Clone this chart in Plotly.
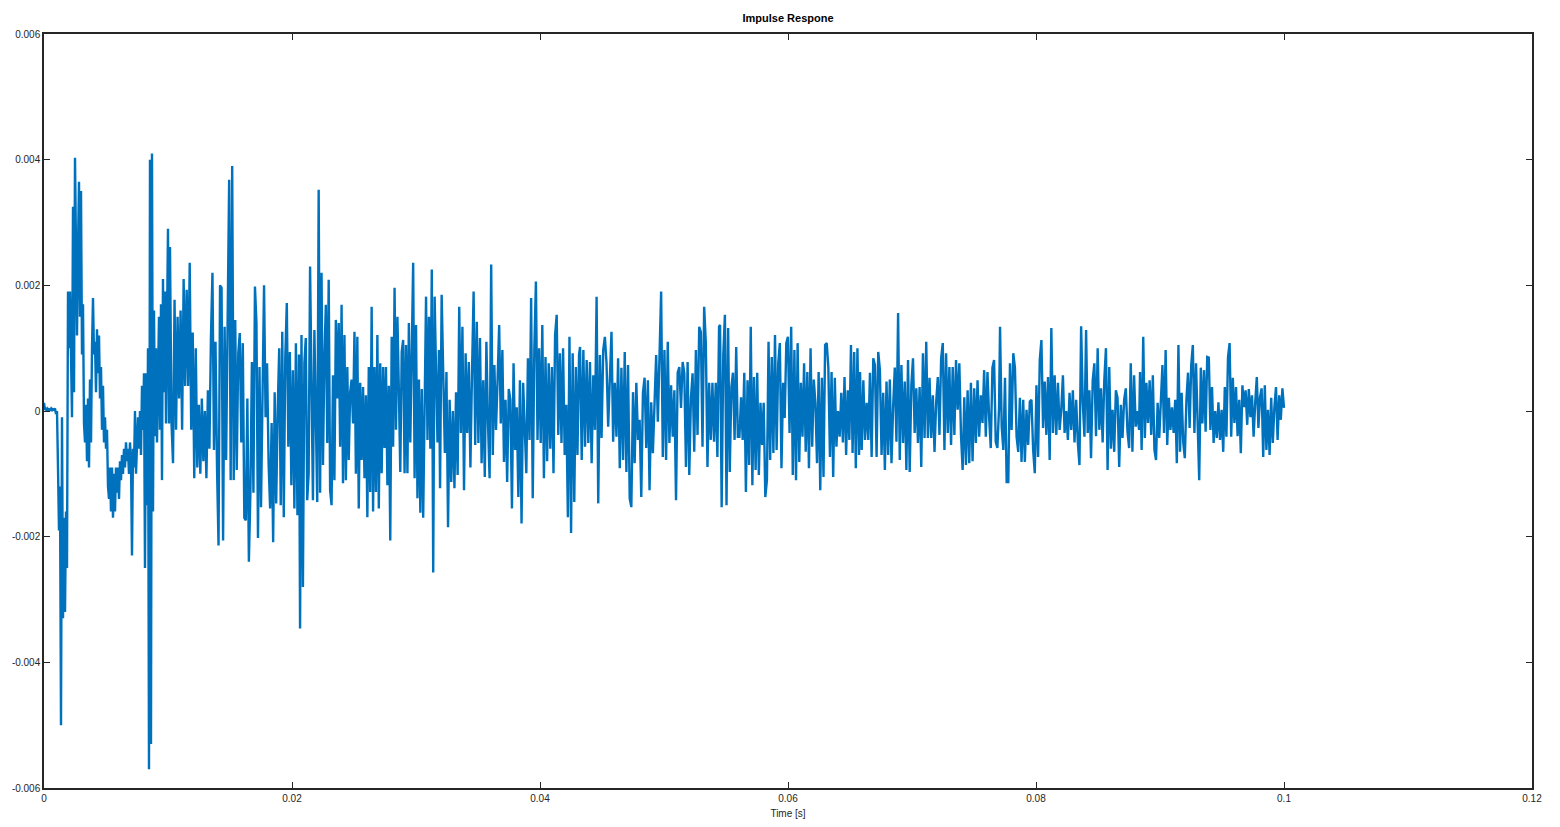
import numpy as np
import plotly.graph_objects as go

# Impulse response samples, values in units of 1e-3.
seg_start_ms = [0.0, 10.16, 20.65, 31.94, 43.23, 54.52, 65.81, 77.10, 88.39]
seg_end_ms = [10.08, 20.56, 31.85, 43.15, 54.44, 65.73, 77.02, 88.31, 100.0]

seg_a = [0.13, 0.03, 0.02, 0.04, 0.0, 0.03, 0.02, 0.04, 0.0, 0.03, 0.02, 0.04, -0.05, 0.0,
         -0.9, -1.9, -1.2, -5.0, -0.1, -3.3, -1.7, -3.2, -1.6, -2.5, 1.9, 1.0, 1.9, 0.5, -0.1,
         3.25, 0.3, 4.03, 2.6, 1.2, 2.6, 3.65, 1.5, 3.5, 0.9, 1.7, -0.2, -0.5, 0.1, -0.8, 0.2,
         -0.9, 0.5, -0.5, 1.0, 1.8, 0.9, 1.1, 0.3, 1.3, 0.6, 1.2, 0.2, 0.7, -0.3, 0.4, -0.5,
         -0.1, -0.6, -0.3, -1.2, -1.4, -0.9, -1.6, -0.9, -1.7, -1.0, -1.6, -0.9, -1.3, -0.9,
         -1.4, -0.8, -1.1, -0.7, -1.0, -0.6, -0.9, -0.5, -0.8, -0.6, -1.0, -0.5, -0.8, -2.3,
         -0.6, -0.9, 0.0, -1.0, -0.4, -0.1, -0.6, 0.0, -0.7, 0.4, -0.3, 0.6, -2.5, 0.6, -1.5,
         1.0, -5.7, 4.0, -5.3, 4.1, -1.6, 1.6, -0.4, 1.0, -0.5, 0.6, 1.5, -0.3, 1.7, -1.1, 2.1,
         0.3, 1.9, -0.2, 1.5, 2.9, -0.2]
seg_b = [2.61, -0.19, -0.83, 1.77, -0.3, 1.5, 0.2, 1.6, -0.3, 2.1, 0.4, 1.93, 0.4, 2.36, -0.3,
         1.25, -1.07, 1.0, -0.9, 0.1, -1.0, 0.2, -0.8, 0.0, -1.07, 0.33, -0.6, 1.18, 2.2, -0.62,
         1.1, -0.9, -2.14, 2.0, 1.96, -2.06, 1.34, -0.78, 1.45, 3.68, -1.1, 3.9, -1.1, 1.45,
         -0.94, 0.92, 1.24, -0.5, 1.08, -1.7, -1.74, 0.2, -2.4, -1.3, 0.78, -1.3, 1.98, 1.4,
         -2.02, 0.7, -1.53, 0.65, 2.0, -0.1, 0.76, -0.83, -1.55, -0.19, -2.09, 0.3, -1.47, 0.02,
         1.0, -1.5, 1.26, -1.69, 0.86, 1.72, -0.57, 0.94, -1.18, 0.65, -1.55, 1.08, -1.66, 0.9]
seg_c = [-3.46, 1.21, -2.8, 0.76, 1.16, -1.42, -1.0, 2.3, 0.3, -1.42, 1.29, 0.0, -1.45, 3.52,
         -1.3, 2.2, -0.86, 0.84, 1.69, -0.51, 2.09, -1.26, -1.5, 0.57, -1.1, 1.45, 0.2, 1.4,
         -0.57, 1.69, -1.15, 1.21, -1.1, 0.7, -0.78, 0.3, 0.5, -0.2, 1.26, -1.0, 1.18, -1.55,
         0.45, -0.78, 0.38, -1.07, 0.25, -1.69, 0.7, -1.29, 1.66, -1.6, 0.7, -1.29, 1.21, -1.55,
         0.76, -0.99, 0.7, -0.59, 0.7, -1.18, 0.4, -2.06, 1.18, -0.57, 1.96, -0.3, 1.5, 0.35,
         -0.97, 0.94, 1.13, -0.99, 1.05, -0.99, 1.4, -0.5, 1.42, 2.36, -1.07, 1.37, -1.39, 0.5,
         -1.62, 0.35, -1.7, 0.5, 1.82, -0.46, 1.5, -0.6, 2.25, -2.57, 1.82, 0.6, -0.5, 0.97]
seg_d = [-1.23, 1.85, 0.76, -0.67, 0.62, -1.85, 0.18, -1.13, 0.0, -1.23, 0.3, -1.02, 1.66,
         -0.35, 1.34, -1.26, 0.92, -0.35, 0.78, -0.9, 0.61, 1.9, -0.54, 1.42, -0.51, 1.16,
         -0.83, 0.49, -1.05, 1.1, -0.19, -1.07, 2.33, -0.7, 0.73, -0.3, 0.49, 1.37, -0.2, 0.97,
         -0.81, 0.18, -1.13, 0.35, 0.18, -1.55, 0.76, -0.62, 0.06, -1.37, 0.49, -1.79, 0.45,
         -0.25, -0.99, 0.84, -0.46, 1.8, -1.39, 0.97, 2.06, -0.46, 1.0, -0.51, 1.37, -1.07,
         0.86, -0.8, 0.76, -0.6, 0.7, -0.99, 1.21, 1.53, -0.38, 0.92, -0.51, 1.0, -0.7, 0.1,
         -1.69, 1.18, -1.94, 0.92, -1.45, 0.7, -0.7, 0.9]
seg_e = [1.02, -0.78, 0.97, -0.57, 0.81, -0.51, 0.78, -0.83, 0.57, -0.3, 1.82, -1.47, 0.89,
         -0.43, 0.97, 1.18, 0.76, -0.25, 0.7, 1.26, -0.49, 0.45, -0.41, 0.84, -0.91, 0.69,
         -0.78, 0.94, -0.97, 0.73, -1.39, -1.53, 0.3, -0.83, 0.45, -0.46, -0.14, -1.37, 0.29,
         0.53, -0.59, 0.49, -1.26, 0.14, -0.67, 0.2, 0.89, -0.17, 0.85, 1.9, -0.73, 0.97, -0.78,
         1.1, -0.51, 0.41, -0.41, 0.33, -1.42, 0.61, 0.7, 0.05, 0.78, 0.6, -0.89, 0.78, -1.02,
         0.2, 0.6, -0.65, 0.97, -0.38, 1.34, 1.26, -0.57, 1.66, 1.08, -0.89, 0.45, -0.46, 0.45,
         -0.49, 0.45, -0.73, 1.34]
seg_f = [1.37, -1.53, 0.89, 1.53, -1.5, 1.32, -0.97, 0.38, 0.61, -0.46, 1.02, -0.41, -0.41,
         0.22, -0.46, 0.61, -1.29, 0.49, -0.86, 1.34, -1.18, 0.54, -0.94, 0.61, -1.02, 0.13,
         -0.54, 0.13, -1.37, -1.1, 1.1, -0.78, 0.86, -0.67, 1.21, -0.62, 0.76, 1.08, -0.91,
         0.45, -0.11, 1.08, 1.18, -0.35, 1.34, -1.02, 0.97, -1.1, 1.08, -0.81, 0.45, -0.41,
         0.76, -0.65, 0.62, -0.91, 1.0, -0.57, 0.5, 0.13, -0.83, 0.62, -1.26, 0.53, -1.05, 1.05,
         1.08, 0.69, -0.73, 0.62, -1.05, 0.53, -0.57, 0.0, -0.41, 0.29, -0.5, 0.54, -0.7, 0.33,
         -0.46, 1.05, -0.67, 0.94, -0.91, 1.0, -0.7]
seg_g = [0.62, -0.62, 0.49, -0.46, 0.13, -0.46, 0.61, -0.73, 0.84, 0.73, -0.73, 0.94, 0.65,
         -0.7, 0.29, -0.94, 0.47, -0.7, 0.5, -0.83, 0.07, 0.69, -0.49, 1.56, -0.78, 0.73, -0.51,
         0.47, -0.94, 0.81, -0.97, 0.41, 0.84, -0.35, 0.36, -0.51, 0.38, -0.89, 0.92, -0.43,
         1.1, -0.43, 0.53, -0.43, 0.25, -0.65, 0.14, 0.54, -0.38, 0.84, 1.08, -0.62, 0.92, -0.35,
         0.7, -0.54, 0.7, -0.38, 0.81, 0.02, 0.76, -0.38, -0.94, 0.22, -0.86, 0.33, -0.83, 0.45,
         -0.8, 0.36, -0.51, 0.49, -0.41, 0.25, -0.19, 0.65, -0.41, 0.62, -0.1, -0.59, 0.69, 0.81,
         -0.49, -0.59, 0.05]
seg_h = [1.34, -0.25, -0.62, 0.53, -1.13, -1.13, 0.76, -0.3, 0.92, 0.69, -0.41, -0.65, 0.21,
         -0.81, 0.18, -0.81, 0.02, -0.54, 0.15, 0.18, -0.62, -0.99, 0.41, -0.73, 0.81, 1.13,
         -0.27, 0.47, -0.38, 0.54, -0.78, 1.32, -0.35, 0.57, -0.38, 0.45, -0.3, 0.02, 0.57,
         -0.35, 0.0, -0.46, 0.29, -0.3, 0.33, -0.5, 0.18, -0.5, -0.86, 1.35, 0.13, -0.41, 1.29,
         -0.35, 0.33, -0.75, 0.49, 0.76, -0.4, 1.0, -0.3, 0.36, -0.5, 0.49, 1.0, -0.94, 0.7,
         -0.6, 0.02, -0.65, 0.33, 0.21, -0.89, 0.1, -0.43, 0.18, 0.36, -0.32, -0.59, 0.76,
         -0.65, 0.57, -0.25, 0.0, -0.3]
seg_i = [0.62, -0.62, 1.18, -0.43, 0.45, -0.19, 0.49, -0.38, 0.57, -0.62, -0.78, 0.13, -0.43,
         0.06, 0.73, -0.35, 0.97, -0.54, 0.21, -0.3, 0.06, -0.35, 0.18, -0.83, 1.05, -0.65,
         0.29, -0.5, -0.75, 0.18, 0.61, -0.27, 0.73, 1.05, -0.35, 0.76, -0.22, -1.1, 0.69, -0.2,
         0.65, -0.33, 0.86, 0.85, -0.3, 0.38, -0.51, 0.0, -0.43, 0.14, -0.46, 0.02, -0.65, 0.38,
         -0.41, 0.86, 1.08, -0.41, 0.53, -0.19, 0.38, -0.4, 0.18, -0.67, 0.41, 0.06, 0.33,
         -0.22, 0.35, -0.1, 0.25, -0.41, 0.13, 0.54, -0.27, 0.22, 0.36, -0.73, 0.41, -0.62, 0.02,
         -0.7, 0.21, -0.51, 0.06, 0.38, -0.46, 0.25, -0.14, 0.36, 0.05]

segments = [seg_a, seg_b, seg_c, seg_d, seg_e, seg_f, seg_g, seg_h, seg_i]

x_ticks = [0, 0.02, 0.04, 0.06, 0.08, 0.1, 0.12]
x_tick_labels = ["0", "0.02", "0.04", "0.06", "0.08", "0.1", "0.12"]
y_ticks = [-0.006, -0.004, -0.002, 0, 0.002, 0.004, 0.006]
y_tick_labels = ["-0.006", "-0.004", "-0.002", "0", "0.002", "0.004", "0.006"]

time_s = []
amp = []
for t0, t1, vals in zip(seg_start_ms, seg_end_ms, segments):
    time_s.extend((np.linspace(t0, t1, len(vals)) * 1e-3).tolist())
    amp.extend((np.array(vals) * 1e-3).tolist())

fig = go.Figure()
fig.add_trace(go.Scatter(x=time_s, y=amp, mode="lines",
                         line=dict(color="#0072BD", width=2.4), showlegend=False))

font_family = "Liberation Sans, Arial, sans-serif"
axis_common = dict(showline=True, linecolor="#262626", linewidth=1.5, mirror="ticks",
                   ticks="inside", ticklen=6, tickwidth=1, tickcolor="#262626",
                   showgrid=False, zeroline=False, automargin=False,
                   tickfont=dict(family=font_family, size=10, color="#262626"))

fig.update_layout(
    width=1544, height=811,
    margin=dict(l=36, r=20, t=26, b=31),
    paper_bgcolor="white", plot_bgcolor="white",
    title=dict(text="<b>Impulse Respone</b>", x=0.5, xanchor="center", y=0.987, yanchor="middle",
               xref="paper", automargin=False,
               font=dict(family=font_family, size=11, color="black")),
    xaxis=dict(range=[0, 0.12], tickvals=x_ticks, ticktext=x_tick_labels,
               title=dict(text="Time [s]", standoff=8,
                          font=dict(family=font_family, size=10, color="#262626")),
               **axis_common),
    yaxis=dict(range=[-0.006, 0.006], tickvals=y_ticks, ticktext=y_tick_labels, **axis_common),
)

fig.write_html("out.html")
